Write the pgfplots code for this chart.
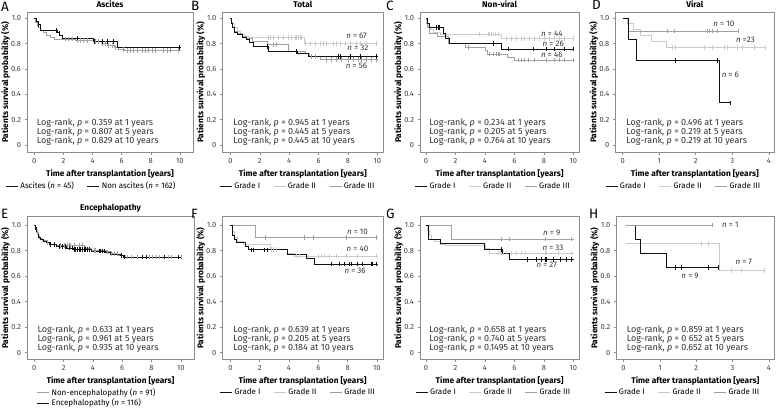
\documentclass[border=0pt]{standalone}
\usepackage{fontspec}
\setmainfont{Fira Sans}
\usepackage{pgfplots}
\pgfplotsset{compat=1.18}

\definecolor{gI}{HTML}{111111}
\definecolor{gII}{HTML}{CCCCCC}
\definecolor{gIII}{HTML}{A0A0A0}
\definecolor{frm}{HTML}{8C8C8C}
\newcommand{\fs}{\fontsize{8}{9}\selectfont}
\newcommand{\fl}{\fontsize{8.3}{9}\selectfont}
\newcommand{\ft}{\fontsize{7.5}{9}\selectfont}
\newcommand{\fr}{\fontsize{9}{9}\selectfont}

\tikzset{
  lr/.style={anchor=south west, inner sep=0pt, align=left, font=\fr, yshift=6.5pt, text=black!80},
  nl/.style={font=\fs, inner sep=0pt, text=black!80},
  pl/.style={font=\fontsize{13.5}{13.5}\selectfont, inner sep=0pt, anchor=base west},
}

\pgfplotsset{
  km/.style={
    scale only axis, anchor=north west,
    axis line style={frm, line width=0.6pt},
    tick style={frm, line width=0.5pt},
    tick align=outside, major tick length=2.5pt,
    xtick pos=bottom, ytick pos=left,
    ytick={0,0.2,0.4,0.6,0.8,1}, yticklabels={0,0.2,0.4,0.6,0.8,1.0},
    tick label style={font=\ft, text=black!75},
    /pgf/number format/assume math mode=true,
    xlabel={\bfseries Time after transplantation [years]},
    ylabel={\bfseries Patients survival probability (\%)},
    xlabel style={font=\fl, at={(axis description cs:0.5,0)}, anchor=center, yshift=-22pt},
    ylabel style={font=\fl, at={([xshift=-21.5pt]axis description cs:0,0.5)}, anchor=center},
    title style={font=\fl\bfseries, yshift=-5pt},
    legend style={draw=none, fill=none, font=\fs, anchor=center,
      /tikz/every even column/.append style={column sep=11pt}},
    legend cell align=left,
    legend image code/.code={\draw[##1, line width=0.8pt] (0pt,0pt) -- (12pt,0pt);},
  },
  top/.style={height=140pt, ymin=-0.057, ymax=1.047},
  bot/.style={height=142.6pt, ymin=-0.052, ymax=1.065},
  ten/.style={xtick={0,2,...,10}},
  four/.style={xtick={0,1,...,4}, xmin=-0.2, xmax=4.15},
  sI/.style={const plot, gI, line width=0.8pt, forget plot},
  sII/.style={const plot, gII, line width=0.8pt, forget plot},
  sIII/.style={const plot, gIII, line width=0.8pt, forget plot},
  cI/.style={only marks, mark=|, mark size=2.3pt, gI, mark options={line width=0.5pt}, forget plot},
  cII/.style={only marks, mark=|, mark size=2.3pt, gII, mark options={line width=0.5pt}, forget plot},
  cIII/.style={only marks, mark=|, mark size=2.3pt, gIII, mark options={line width=0.5pt}, forget plot},
  grades/.style={legend columns=3},
}

\begin{document}
\begin{tikzpicture}
\path[use as bounding box] (0pt,0pt) rectangle (777pt,-409pt);

% ---------------- A: Ascites
\begin{axis}[km, top, ten, at={(27pt,-12.3pt)}, width=166pt, xmin=-0.5, xmax=10.9,
  title={Ascites}, legend columns=2, legend style={at={(0.389,-0.241)}}]
\addplot[sIII] coordinates {(0,1)(0.08,0.97)(0.18,0.945)(0.3,0.925)(0.45,0.905)(0.6,0.885)(0.85,0.865)(1.1,0.85)(1.35,0.835)(2.8,0.825)(4.1,0.815)(4.6,0.80)(5.0,0.785)(5.5,0.77)(5.8,0.755)(6.2,0.745)(10.05,0.745)};
\addplot[cIII] coordinates {(2.13,0.835)(2.36,0.835)(2.59,0.835)(2.93,0.825)(3.16,0.825)(3.39,0.825)(3.62,0.825)(4.19,0.815)(4.42,0.815)(4.65,0.80)(4.87,0.80)(5.1,0.785)(5.33,0.785)(5.56,0.77)(6.14,0.755)(6.36,0.745)(6.59,0.745)(6.82,0.745)(7.05,0.745)(7.39,0.745)(7.62,0.745)(7.85,0.745)(8.08,0.745)(8.31,0.745)(8.88,0.745)(9.11,0.745)(9.34,0.745)(9.91,0.745)};
\addplot[sI] coordinates {(0,1)(0.12,0.975)(0.25,0.95)(0.4,0.905)(1.6,0.885)(1.75,0.865)(1.9,0.845)(4.05,0.815)(5.68,0.77)(10.05,0.77)};
\addplot[cI] coordinates {(0.3,0.95)(1.5,0.905)(1.7,0.885)(2.93,0.845)(4.1,0.815)(4.65,0.815)(5.0,0.815)(5.45,0.815)(9.95,0.77)};
\node[lr] at (rel axis cs:0.058,0) {Log-rank, \textit{p} = 0.359 at 1 years\\Log-rank, \textit{p} = 0.807 at 5 years\\Log-rank, \textit{p} = 0.829 at 10 years};
\addlegendimage{gI}\addlegendentry{Ascites (\textit{n} = 45)}
\addlegendimage{gI}\addlegendentry{Non ascites (\textit{n} = 162)}
\end{axis}

% ---------------- B: Total
\begin{axis}[km, top, ten, grades, at={(222.3pt,-12.3pt)}, width=161pt, xmin=-0.55, xmax=10.4,
  title={Total}, legend style={at={(0.47,-0.241)}}]
\addplot[sII] coordinates {(0,1)(0.1,0.96)(0.25,0.93)(0.45,0.9)(0.7,0.875)(0.95,0.86)(1.2,0.847)(5.0,0.80)(10.05,0.80)};
\addplot[cII] coordinates {(2.58,0.847)(2.69,0.847)(2.92,0.847)(3.26,0.847)(3.6,0.847)(3.94,0.847)(4.17,0.847)(4.39,0.847)(4.5,0.847)(4.62,0.847)(4.73,0.847)(4.85,0.847)(5.07,0.80)(5.41,0.80)(5.75,0.80)(6.09,0.80)(6.33,0.80)(6.54,0.80)(6.99,0.80)(7.22,0.80)(7.45,0.80)(7.79,0.80)(8.13,0.80)(8.58,0.80)(8.8,0.80)(9.26,0.80)(9.94,0.80)};
\addplot[sIII] coordinates {(0,1)(0.05,0.97)(0.15,0.93)(0.3,0.90)(0.5,0.88)(0.8,0.86)(1.1,0.84)(1.5,0.82)(2.55,0.795)(3.94,0.735)(5.1,0.72)(5.4,0.70)(6.1,0.676)(10.05,0.676)};
\addplot[cIII] coordinates {(2.92,0.795)(3.15,0.795)(5.52,0.70)(5.75,0.70)(6.54,0.676)(6.88,0.676)(7.22,0.676)(7.56,0.676)(8.01,0.676)(8.35,0.676)(8.69,0.676)(8.92,0.676)(9.26,0.676)(9.6,0.676)(9.94,0.676)};
\addplot[sI] coordinates {(0,1)(0.08,0.96)(0.15,0.93)(0.25,0.89)(0.5,0.87)(0.8,0.85)(1.1,0.83)(1.3,0.81)(1.55,0.775)(2.6,0.737)(4.55,0.72)(5.3,0.70)(10.05,0.70)};
\addplot[cI] coordinates {(2.5,0.775)(4.5,0.737)(7.33,0.70)(7.45,0.70)(8.13,0.70)(8.8,0.70)(9.94,0.70)};
\node[nl] at (axis cs:8.58,0.86) {\textit{n} = 67};
\node[nl] at (axis cs:8.67,0.765) {\textit{n} = 32};
\node[nl] at (axis cs:8.58,0.626) {\textit{n} = 56};
\node[lr] at (rel axis cs:0.068,0) {Log-rank, \textit{p} = 0.945 at 1 years\\Log-rank, \textit{p} = 0.445 at 5 years\\Log-rank, \textit{p} = 0.445 at 10 years};
\addlegendimage{gI}\addlegendentry{Grade I}
\addlegendimage{gII}\addlegendentry{Grade II}
\addlegendimage{gIII}\addlegendentry{Grade III}
\end{axis}

% ---------------- C: Non-viral
\begin{axis}[km, top, ten, grades, at={(420pt,-12.3pt)}, width=159.3pt, xmin=-0.41, xmax=10.41,
  title={Non-viral}, legend style={at={(0.46,-0.241)}}]
\addplot[sII] coordinates {(0,1)(0.05,0.96)(0.15,0.93)(0.3,0.91)(0.5,0.89)(1.0,0.875)(5.1,0.84)(10.05,0.84)};
\addplot[cII] coordinates {(3.64,0.875)(4.21,0.875)(4.32,0.875)(4.43,0.875)(4.55,0.875)(4.71,0.875)(4.89,0.875)(5.45,0.84)(5.79,0.84)(6.13,0.84)(6.47,0.84)(6.7,0.84)(7.04,0.84)(7.38,0.84)(7.72,0.84)(8.06,0.84)(8.4,0.84)(8.74,0.84)(9.08,0.84)(9.42,0.84)(9.98,0.84)};
\addplot[sIII] coordinates {(0,1)(0.1,0.93)(0.2,0.88)(0.8,0.855)(1.5,0.80)(2.7,0.77)(4.0,0.745)(4.2,0.718)(5.5,0.695)(6.0,0.67)(10.05,0.67)};
\addplot[cIII] coordinates {(2.85,0.77)(4.32,0.718)(4.55,0.718)(4.77,0.718)(4.89,0.718)(5.0,0.718)(6.25,0.67)(6.47,0.67)(6.7,0.67)(6.92,0.67)(7.38,0.67)(8.17,0.67)(8.74,0.67)(9.08,0.67)(9.42,0.67)(9.98,0.67)};
\addplot[sI] coordinates {(0,1)(0.1,0.96)(0.2,0.925)(1.15,0.88)(1.3,0.84)(1.6,0.80)(5.1,0.757)(10.05,0.757)};
\addplot[cI] coordinates {(0.7,0.925)(0.81,0.925)(0.93,0.925)(4.55,0.80)(5.57,0.757)(7.26,0.757)(8.17,0.757)(8.74,0.757)(9.42,0.757)(9.98,0.757)};
\node[nl] at (axis cs:8.55,0.88) {\textit{n} = 44};
\node[nl] at (axis cs:8.64,0.80) {\textit{n} = 26};
\node[nl] at (axis cs:8.55,0.71) {\textit{n} = 46};
\node[lr] at (rel axis cs:0.058,0) {Log-rank, \textit{p} = 0.234 at 1 years\\Log-rank, \textit{p} = 0.205 at 5 years\\Log-rank, \textit{p} = 0.764 at 10 years};
\addlegendimage{gI}\addlegendentry{Grade I}
\addlegendimage{gII}\addlegendentry{Grade II}
\addlegendimage{gIII}\addlegendentry{Grade III}
\end{axis}

% ---------------- D: Viral
\begin{axis}[km, top, four, grades, at={(615.3pt,-12.3pt)}, width=159pt,
  title={Viral}, legend style={at={(0.43,-0.241)}}]
\addplot[sII] coordinates {(0,1)(0.12,0.96)(0.3,0.91)(0.5,0.865)(0.78,0.82)(1.2,0.77)(3.9,0.77)};
\addplot[cII] coordinates {(1.35,0.77)(1.44,0.77)(2.22,0.77)(2.45,0.77)(2.77,0.77)(2.86,0.77)(3.13,0.77)(3.27,0.77)(3.59,0.77)(3.9,0.77)};
\addplot[sIII] coordinates {(0,1)(0.17,0.90)(3.15,0.90)};
\addplot[cIII] coordinates {(1.23,0.90)(1.4,0.90)(2.31,0.90)(2.36,0.90)(2.45,0.90)(2.58,0.90)(3.15,0.90)};
\addplot[sI] coordinates {(0,1)(0.16,0.833)(0.37,0.667)(2.65,0.333)(2.95,0.333)};
\addplot[cI] coordinates {(1.45,0.667)(2.6,0.667)(2.95,0.333)};
\node[nl] at (axis cs:2.77,0.96) {\textit{n} = 10};
\node[nl] at (axis cs:3.36,0.83) {\textit{n} =23};
\node[nl] at (axis cs:2.95,0.55) {\textit{n} = 6};
\node[lr] at (rel axis cs:0.069,0) {Log-rank, \textit{p} = 0.496 at 1 years\\Log-rank, \textit{p} = 0.219 at 5 years\\Log-rank, \textit{p} = 0.219 at 10 years};
\addlegendimage{gI}\addlegendentry{Grade I}
\addlegendimage{gII}\addlegendentry{Grade II}
\addlegendimage{gIII}\addlegendentry{Grade III}
\end{axis}

% ---------------- E: Encephalopathy
\begin{axis}[km, bot, ten, at={(27pt,-216.7pt)}, width=167pt, xmin=-0.5, xmax=10.9,
  title={Encephalopathy}, legend columns=1, legend style={at={(0.42,-0.175)}, anchor=north, row sep=-1.5pt}]
\addplot[sIII] coordinates {(0,1)(0.05,0.97)(0.15,0.94)(0.25,0.92)(0.35,0.895)(0.55,0.88)(0.85,0.865)(1.1,0.85)(1.5,0.84)(3.4,0.82)(3.9,0.80)(4.9,0.79)(5.2,0.775)(5.7,0.765)(6.2,0.75)(10.05,0.75)};
\addplot[cIII] coordinates {(0.19,0.94)(0.87,0.865)(1.79,0.84)(2.02,0.84)(2.24,0.84)(2.36,0.84)(2.47,0.84)(2.7,0.84)(3.05,0.84)(3.27,0.84)(3.5,0.82)(4.07,0.80)(4.19,0.80)(4.99,0.79)(5.22,0.775)(5.45,0.775)(5.68,0.775)(6.36,0.75)(6.59,0.75)(7.05,0.75)(7.85,0.75)(8.08,0.75)(8.31,0.75)(8.54,0.75)(9.11,0.75)(9.34,0.75)(10.02,0.75)};
\addplot[sI] coordinates {(0,1)(0.05,0.98)(0.12,0.95)(0.2,0.93)(0.3,0.905)(0.42,0.89)(0.6,0.875)(0.85,0.86)(1.0,0.845)(1.5,0.833)(2.2,0.82)(2.65,0.807)(3.9,0.795)(4.85,0.785)(5.2,0.77)(5.85,0.76)(6.05,0.75)(10.05,0.75)};
\addplot[cI] coordinates {(0.05,0.98)(1.1,0.845)(1.33,0.845)(1.67,0.833)(1.9,0.833)(2.13,0.833)(2.36,0.82)(2.59,0.82)(2.7,0.807)(2.81,0.807)(2.93,0.807)(3.05,0.807)(3.16,0.807)(3.27,0.807)(3.39,0.807)(3.5,0.807)(3.62,0.807)(3.73,0.807)(4.42,0.795)(4.53,0.795)(4.65,0.795)(4.76,0.795)(5.95,0.76)(6.14,0.75)(7.39,0.75)(7.62,0.75)(8.88,0.75)(9.8,0.75)};
\node[lr] at (rel axis cs:0.062,0) {Log-rank, \textit{p} = 0.633 at 1 years\\Log-rank, \textit{p} = 0.961 at 5 years\\Log-rank, \textit{p} = 0.935 at 10 years};
\addlegendimage{gIII}\addlegendentry{Non-encephalopathy (\textit{n} = 91)}
\addlegendimage{gI}\addlegendentry{Encephalopathy (\textit{n} = 116)}
\end{axis}

% ---------------- F
\begin{axis}[km, bot, ten, grades, at={(222.3pt,-216.7pt)}, width=160.5pt, xmin=-0.55, xmax=10.4,
  legend style={at={(0.474,-0.234)}}]
\addplot[sII] coordinates {(0,1)(0.12,0.95)(0.3,0.9)(0.5,0.87)(0.9,0.85)(2.7,0.81)(3.9,0.775)(4.4,0.757)(10.05,0.757)};
\addplot[cII] coordinates {(2.8,0.81)(2.95,0.81)(3.1,0.81)(4.5,0.757)(4.73,0.757)(5.29,0.757)(5.97,0.757)(6.2,0.757)(6.43,0.757)(6.76,0.757)(7.2,0.757)(7.9,0.757)(8.69,0.757)(9.93,0.757)};
\addplot[sIII] coordinates {(0,1)(1.72,0.9)(10.05,0.9)};
\addplot[cIII] coordinates {(2.35,0.9)(5.07,0.9)(5.68,0.9)(7.9,0.9)(9.93,0.9)};
\addplot[sI] coordinates {(0,1)(0.12,0.92)(0.25,0.89)(0.4,0.862)(1.0,0.83)(1.2,0.805)(3.9,0.773)(5.2,0.736)(5.7,0.695)(10.05,0.695)};
\addplot[cI] coordinates {(1.45,0.805)(1.55,0.805)(2.3,0.805)(2.5,0.805)(6.88,0.695)(7.44,0.695)(7.78,0.695)(8.12,0.695)(8.24,0.695)(8.69,0.695)(9.03,0.695)(9.59,0.695)(9.71,0.695)(9.93,0.695)};
\node[nl] at (axis cs:8.67,0.947) {\textit{n} = 10};
\node[nl] at (axis cs:8.67,0.817) {\textit{n} = 40};
\node[nl] at (axis cs:8.51,0.64) {\textit{n} = 36};
\node[lr] at (rel axis cs:0.068,0) {Log-rank, \textit{p} = 0.639 at 1 years\\Log-rank, \textit{p} = 0.205 at 5 years\\Log-rank, \textit{p} = 0.184 at 10 years};
\addlegendimage{gI}\addlegendentry{Grade I}
\addlegendimage{gII}\addlegendentry{Grade II}
\addlegendimage{gIII}\addlegendentry{Grade III}
\end{axis}

% ---------------- G
\begin{axis}[km, bot, ten, grades, at={(420pt,-216.7pt)}, width=159.3pt, xmin=-0.41, xmax=10.41,
  legend style={at={(0.463,-0.234)}}]
\addplot[sII] coordinates {(0,1)(0.1,0.96)(0.2,0.92)(0.35,0.89)(0.6,0.87)(1.0,0.85)(1.3,0.84)(4.0,0.815)(4.3,0.78)(10.05,0.78)};
\addplot[cII] coordinates {(4.91,0.78)(5.02,0.78)(5.14,0.78)(5.25,0.78)(5.48,0.78)(5.81,0.78)(6.15,0.78)(6.49,0.78)(6.72,0.78)(8.08,0.78)(8.19,0.78)(8.98,0.78)(9.89,0.78)};
\addplot[sIII] coordinates {(0,1)(1.74,0.889)(10.05,0.889)};
\addplot[cIII] coordinates {(5.14,0.889)(5.63,0.889)(8.08,0.889)(9.89,0.889)};
\addplot[sI] coordinates {(0,1)(0.15,0.888)(0.95,0.855)(3.96,0.81)(5.18,0.78)(5.66,0.73)(10.05,0.73)};
\addplot[cI] coordinates {(5.09,0.81)(6.9,0.73)(7.51,0.73)(7.85,0.73)(8.12,0.73)(8.19,0.73)(8.64,0.73)(9.1,0.73)(9.55,0.73)(9.89,0.73)};
\node[nl] at (axis cs:8.54,0.935) {\textit{n} = 9};
\node[nl] at (axis cs:8.62,0.825) {\textit{n} = 33};
\node[nl] at (axis cs:8.2,0.687) {\textit{n} = 27};
\node[lr] at (rel axis cs:0.058,0) {Log-rank, \textit{p} = 0.658 at 1 years\\Log-rank, \textit{p} = 0.740 at 5 years\\Log-rank, \textit{p} = 0.1495 at 10 years};
\addlegendimage{gI}\addlegendentry{Grade I}
\addlegendimage{gII}\addlegendentry{Grade II}
\addlegendimage{gIII}\addlegendentry{Grade III}
\end{axis}

% ---------------- H
\begin{axis}[km, bot, four, grades, at={(616.3pt,-216.7pt)}, width=158pt,
  legend style={at={(0.42,-0.234)}}]
\addplot[sII] coordinates {(0.06,0.857)(2.65,0.643)(3.88,0.643)};
\addplot[cII] coordinates {(2.14,0.857)(2.32,0.857)(2.96,0.643)(3.23,0.643)(3.88,0.643)};
\addplot[sI] coordinates {(0.06,1)(0.33,0.889)(0.46,0.778)(1.18,0.667)(2.62,0.667)};
\addplot[cI] coordinates {(1.43,0.667)(1.58,0.667)(2.32,0.667)(2.62,0.667)};
\addplot[sIII] coordinates {(0.06,1)(2.45,1)};
\addplot[cIII] coordinates {(2.45,1)};
\node[nl] at (axis cs:2.94,1.0) {\textit{n} = 1};
\node[nl] at (axis cs:3.31,0.71) {\textit{n} = 7};
\node[nl] at (axis cs:1.83,0.60) {\textit{n} = 9};
\node[lr] at (rel axis cs:0.065,0) {Log-rank, \textit{p} = 0.859 at 1 years\\Log-rank, \textit{p} = 0 652 at 5 years\\Log-rank, \textit{p} = 0.652 at 10 years};
\addlegendimage{gI}\addlegendentry{Grade I}
\addlegendimage{gII}\addlegendentry{Grade II}
\addlegendimage{gIII}\addlegendentry{Grade III}
\end{axis}

% panel letters
\node[pl] at (1pt,-11.7pt) {A};
\node[pl] at (191pt,-11pt) {B};
\node[pl] at (386pt,-11pt) {C};
\node[pl] at (592pt,-9.5pt) {D};
\node[pl] at (1pt,-218.3pt) {E};
\node[pl] at (191pt,-218.3pt) {F};
\node[pl] at (386pt,-218.3pt) {G};
\node[pl] at (589pt,-218.3pt) {H};
\end{tikzpicture}
\end{document}
